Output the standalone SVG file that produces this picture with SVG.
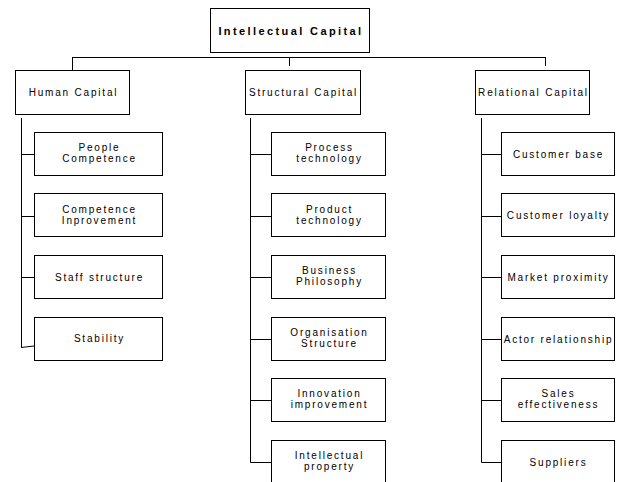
<svg xmlns="http://www.w3.org/2000/svg" width="618" height="482" viewBox="0 0 618 482">
<style>
rect{fill:#fff;stroke:#000;stroke-width:1}
.c{stroke:#000;stroke-width:1;fill:none}
text{font-family:"Liberation Sans",Arial,sans-serif;font-size:10px;fill:#000;text-anchor:middle;letter-spacing:1.8px}
.t{font-size:11px;font-weight:bold;letter-spacing:2.4px}
</style>
<rect x="0" y="0" width="618" height="482" style="stroke:none"/>
<g id="connectors">
<path class="c" d="M72.5 57.5H545.5M72.5 57V70M289.5 57V66M545.5 57V66"/>
<path class="c" d="M21.5 118V347.5M21 154.5H34M21 216.5H34M21 277.5H34M21 347.5L34 346"/>
<path class="c" d="M250.5 118V462.5H271M250 154.5H271M250 216.5H271M250 277.5H271M250 339.5H271M250 400.5H271"/>
<path class="c" d="M481.5 118V462.5H501M481 154.5H501M481 216.5H501M481 277.5H501M481 339.5H501M481 400.5H501"/>
</g>
<g id="n-root"><rect x="210.5" y="8.5" width="159" height="44"/><text class="t" x="291" y="35">Intellectual Capital</text></g>
<g id="n-human"><rect x="15.5" y="70.5" width="114" height="44"/><text x="73.5" y="96">Human Capital</text></g>
<g id="n-structural"><rect x="245.5" y="70.5" width="115" height="44"/><text x="303.5" y="96">Structural Capital</text></g>
<g id="n-relational"><rect x="475.5" y="70.5" width="114" height="44"/><text x="533.5" y="96">Relational Capital</text></g>

<g id="n-people"><rect x="34.5" y="132.5" width="128" height="43"/><text x="99.5" y="151">People</text><text x="99.5" y="162">Competence</text></g>
<g id="n-compimp"><rect x="34.5" y="193.5" width="128" height="43"/><text x="99.5" y="212.5">Competence</text><text x="99.5" y="223.5">Inprovement</text></g>
<g id="n-staff"><rect x="34.5" y="255.5" width="128" height="43"/><text x="99.5" y="281">Staff structure</text></g>
<g id="n-stability"><rect x="34.5" y="317.5" width="128" height="43"/><text x="99.5" y="342">Stability</text></g>

<g id="n-process"><rect x="271.5" y="132.5" width="114" height="43"/><text x="329.5" y="151">Process</text><text x="329.5" y="162">technology</text></g>
<g id="n-product"><rect x="271.5" y="193.5" width="114" height="43"/><text x="329.5" y="212.5">Product</text><text x="329.5" y="223.5">technology</text></g>
<g id="n-business"><rect x="271.5" y="255.5" width="114" height="43"/><text x="329.5" y="274">Business</text><text x="329.5" y="285">Philosophy</text></g>
<g id="n-organisation"><rect x="271.5" y="317.5" width="114" height="43"/><text x="329.5" y="336">Organisation</text><text x="329.5" y="347">Structure</text></g>
<g id="n-innovation"><rect x="271.5" y="378.5" width="114" height="43"/><text x="329.5" y="397">Innovation</text><text x="329.5" y="408">improvement</text></g>
<g id="n-ip"><rect x="271.5" y="440.5" width="114" height="45"/><text x="329.5" y="459">Intellectual</text><text x="329.5" y="470">property</text></g>

<g id="n-custbase"><rect x="501.5" y="132.5" width="113" height="43"/><text x="558.5" y="157.5">Customer base</text></g>
<g id="n-custloyal"><rect x="501.5" y="193.5" width="113" height="43"/><text x="558.5" y="219">Customer loyalty</text></g>
<g id="n-market"><rect x="501.5" y="255.5" width="113" height="43"/><text x="558.5" y="281">Market proximity</text></g>
<g id="n-actor"><rect x="501.5" y="317.5" width="113" height="43"/><text x="558.5" y="342.5">Actor relationship</text></g>
<g id="n-sales"><rect x="501.5" y="378.5" width="113" height="43"/><text x="558.5" y="397">Sales</text><text x="558.5" y="408">effectiveness</text></g>
<g id="n-suppliers"><rect x="501.5" y="440.5" width="113" height="45"/><text x="558.5" y="466">Suppliers</text></g>
</svg>
